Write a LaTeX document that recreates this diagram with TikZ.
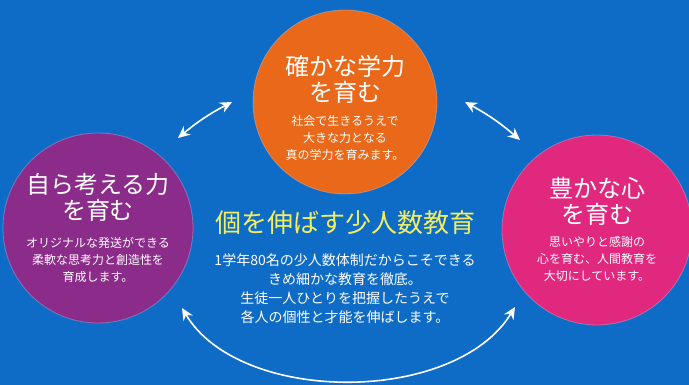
\documentclass[tikz,border=0pt]{standalone}
\usepackage{fontspec}
\setmainfont{Noto Sans CJK JP}
\usetikzlibrary{arrows.meta}

\definecolor{haikei}{RGB}{14,108,198}
\definecolor{orenji}{RGB}{233,104,26}
\definecolor{murasaki}{RGB}{140,44,138}
\definecolor{momoiro}{RGB}{224,40,126}
\definecolor{kiiro}{RGB}{242,238,96}

\tikzset{
	maru/.style={circle, inner sep=0pt, minimum size=#1, draw=white, draw opacity=0.25, line width=0.8pt},
	midashi/.style={white, align=center, font=\fontsize{24}{26}\selectfont},
	setsumei/.style={white, align=center, font=\fontsize{12}{17}\selectfont},
	yajirushi/.style={white, line width=1.6pt, {Stealth[length=12pt,width=11pt]}-{Stealth[length=12pt,width=11pt]}}
}

\begin{document}
\begin{tikzpicture}[x=1pt, y=-1pt]
	\fill[haikei] (0,0) rectangle (689,385);
	\useasboundingbox (0,0) rectangle (689,385);

%	circle centres
	\coordinate (ue)    at (345,102);
	\coordinate (hidari) at (98,228);
	\coordinate (migi)  at (597,230);

	\node[maru=184pt, fill=orenji]   (gakuryoku) at (ue) {};
	\node[maru=190pt, fill=murasaki] (kangaeru)  at (hidari) {};
	\node[maru=190pt, fill=momoiro]  (kokoro)    at (migi) {};

	\node[midashi] (gakuryokuT) at (345,79.5) {確かな学力\\を育む};
	\node[setsumei] (gakuryokuS) at (345,138) {社会で生きるうえで\\大きな力となる\\真の学力を育みます。};

	\node[midashi] (kangaeruT) at (98,197.5) {自ら考える力\\を育む};
	\node[setsumei] (kangaeruS) at (98,259.5) {オリジナルな発送ができる\\柔軟な思考力と創造性を\\育成します。};

	\node[midashi] (kokoroT) at (597,201.5) {豊かな心\\を育む};
	\node[setsumei] (kokoroS) at (597,258.5) {思いやりと感謝の\\心を育む、人間教育を\\大切にしています。};

	\node[kiiro, font=\fontsize{26}{28}\selectfont] (midashiC) at (345,223) {個を伸ばす少人数教育};
	\node[white, align=center, font=\fontsize{14}{19}\selectfont] (setsumeiC) at (345,288.5)
		{1学年80名の少人数体制だからこそできる\\きめ細かな教育を徹底。\\生徒一人ひとりを把握したうえで\\各人の個性と才能を伸ばします。};

%	arrows
	\coordinate (a1) at (178,138);
	\coordinate (a2) at (232,102);
	\coordinate (b1) at (465,102);
	\coordinate (b2) at (520,140);
	\coordinate (c1) at (182,308);
	\coordinate (c2) at (515,307);

	\draw[yajirushi] (a1) to[bend left=6] (a2);
	\draw[yajirushi] (b1) to[bend left=6] (b2);
	\draw[yajirushi] (c1) .. controls (240,405) and (455,405) .. (c2);
\end{tikzpicture}
\end{document}
